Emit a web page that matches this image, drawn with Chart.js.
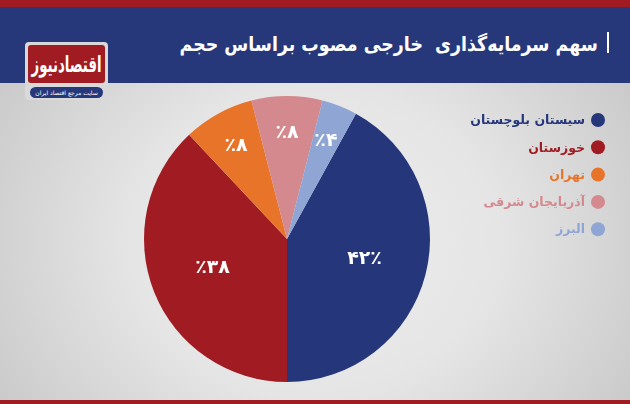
<!DOCTYPE html>
<html lang="fa">
<head>
<meta charset="utf-8">
<title>سهم سرمایه‌گذاری خارجی مصوب براساس حجم</title>
<script src="https://cdn.jsdelivr.net/npm/chart.js@4/dist/chart.umd.min.js"></script>
<style>
  html, body { margin: 0; padding: 0; }
  body {
    width: 630px; height: 404px; position: relative; overflow: hidden;
    font-family: "DejaVu Sans", "Noto Sans", sans-serif;
    background: radial-gradient(ellipse 65% 85% at 50% 60%, #eeeeee 0%, #e5e5e5 45%, #c4c4c4 100%);
  }
  .top-stripe { position: absolute; left: 0; top: 0; width: 630px; height: 7px; background: #a01c22; }
  .header { position: absolute; left: 0; top: 7px; width: 630px; height: 76px; background: #27387a; }
  .title {
    position: absolute; right: 32px; top: 32px; color: #fff; direction: rtl;
    font-size: 20px; font-weight: bold; white-space: nowrap;
    transform: scaleX(0.87); transform-origin: right center;
  }
  .bar { position: absolute; left: 607px; top: 32px; width: 2px; height: 21px; background: #fff; }
  .logo {
    position: absolute; left: 25px; top: 42px; width: 83px; height: 58px;
    background: #d9d9d9; border-radius: 4px;
  }
  .logo .name {
    position: absolute; left: 3px; top: 3px; width: 77px; height: 38px; background: #a01c22;
    border-radius: 3px; overflow: hidden;
  }
  .logo .name span {
    display: block; color: #fff; font-weight: bold; font-size: 14px; line-height: 38px;
    text-align: center; direction: rtl; white-space: nowrap;
    transform: scale(0.95, 1.6);
  }
  .logo .sub {
    position: absolute; left: 5px; top: 45px; width: 73px; height: 11px; background: #27387a;
    border-radius: 6px; overflow: hidden;
  }
  .logo .sub span {
    display: block; color: #fff; font-size: 6px; line-height: 11px; text-align: center;
    direction: rtl; white-space: nowrap;
  }
  .bottom-stripe { position: absolute; left: 0; top: 400px; width: 630px; height: 4px; background: #a01c22; }
  #chart { position: absolute; left: 0; top: 0; }
</style>
</head>
<body>
<div class="top-stripe"></div>
<div class="header"></div>
<div class="title">سهم سرمایه‌گذاری&nbsp; خارجی مصوب براساس حجم</div>
<div class="bar"></div>
<div class="logo">
  <div class="name"><span>اقتصادنیوز</span></div>
  <div class="sub"><span>سایت مرجع اقتصاد ایران</span></div>
</div>
<div class="bottom-stripe"></div>
<canvas id="chart" width="630" height="404"></canvas>

<script>
// Chart data ---------------------------------------------------------------
const provinces = ['سیستان بلوچستان', 'خوزستان', 'تهران', 'آذربایجان شرقی', 'البرز'];
const shares = [42, 38, 8, 8, 4];
const shareLabels = ['۴۲٪', '٪۳۸', '٪۸', '٪۸', '٪۴'];
const sliceColors = ['#25367b', '#a01c22', '#e8742a', '#d4898f', '#8fa5d3'];

// Percent labels inside the slices
const sliceLabelPlugin = {
  id: 'sliceLabels',
  afterDatasetsDraw(chart) {
    const { ctx } = chart;
    const arcs = chart.getDatasetMeta(0).data;
    ctx.save();
    ctx.fillStyle = '#ffffff';
    ctx.font = 'bold 19px "DejaVu Sans", sans-serif';
    ctx.textAlign = 'center';
    ctx.textBaseline = 'middle';
    ctx.direction = 'ltr';
    arcs.forEach((arc, i) => {
      const mid = (arc.startAngle + arc.endAngle) / 2;
      const f = shares[i] >= 30 ? 0.56 : 0.74;
      const r = arc.outerRadius * f;
      ctx.fillText(shareLabels[i], arc.x + Math.cos(mid) * r, arc.y + Math.sin(mid) * r);
    });
    ctx.restore();
  },
};

// Legend on the right, drawn from the same arrays
const sideLegendPlugin = {
  id: 'sideLegend',
  afterDraw(chart) {
    const { ctx } = chart;
    ctx.save();
    ctx.font = 'bold 12.5px "DejaVu Sans", sans-serif';
    ctx.textAlign = 'right';
    ctx.textBaseline = 'middle';
    ctx.direction = 'rtl';
    provinces.forEach((name, i) => {
      const y = 120 + i * 27.3;
      ctx.fillStyle = sliceColors[i];
      ctx.beginPath();
      ctx.arc(598, y, 7, 0, Math.PI * 2);
      ctx.fill();
      ctx.fillText(name, 585, y + 1);
    });
    ctx.restore();
  },
};

window.addEventListener('DOMContentLoaded', () => {
  const ctx = document.getElementById('chart').getContext('2d');
  new Chart(ctx, {
    type: 'pie',
    data: {
      labels: provinces,
      datasets: [{
        data: shares,
        backgroundColor: sliceColors,
        borderWidth: 0,
      }],
    },
    options: {
      responsive: false,
      animation: false,
      rotation: 28.8,
      layout: { padding: { left: 144, right: 200, top: 96, bottom: 22 } },
      plugins: {
        legend: { display: false },
        tooltip: { enabled: false },
      },
    },
    plugins: [sliceLabelPlugin, sideLegendPlugin],
  });
});
</script>
</body>
</html>
